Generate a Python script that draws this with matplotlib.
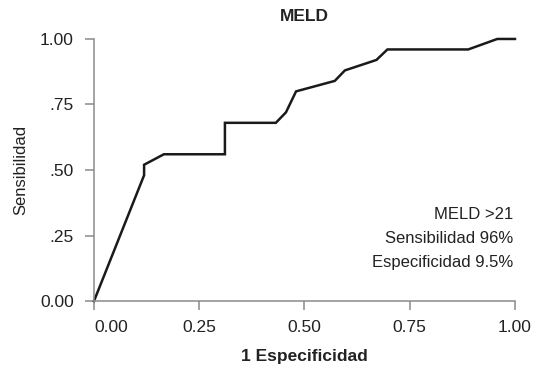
import matplotlib
matplotlib.use("Agg")
import matplotlib.pyplot as plt

# ROC curve points (1 - specificity, sensitivity)
fpr = [0.0, 0.119, 0.119, 0.166, 0.311, 0.311, 0.432, 0.456, 0.480,
       0.572, 0.596, 0.671, 0.697, 0.889, 0.958, 1.0]
tpr = [0.0, 0.48, 0.52, 0.56, 0.56, 0.68, 0.68, 0.72, 0.80,
       0.84, 0.88, 0.92, 0.96, 0.96, 1.0, 1.0]

xticks = [0.0, 0.25, 0.5, 0.75, 1.0]
xticklabels = ["0.00", "0.25", "0.50", "0.75", "1.00"]
yticks = [0.0, 0.25, 0.5, 0.75, 1.0]
yticklabels = ["0.00", ".25", ".50", ".75", "1.00"]
note_lines = ["MELD >21", "Sensibilidad 96%", "Especificidad 9.5%"]

plt.rcParams["font.family"] = ["Liberation Sans", "DejaVu Sans"]

GRAY = "#8a8a8a"
TXT = "#222222"

fig = plt.figure(figsize=(5.39, 3.82), dpi=100)
ax = fig.add_axes([0.1744, 0.212, 0.781, 0.686])

ax.plot(fpr, tpr, color="#1a1a1a", lw=1.8, clip_on=False, solid_joinstyle="miter")

ax.set_xlim(0, 1)
ax.set_ylim(0, 1)
for side in ("top", "right"):
    ax.spines[side].set_visible(False)
for side in ("left", "bottom"):
    ax.spines[side].set_color(GRAY)
    ax.spines[side].set_linewidth(1.1)

ax.set_xticks(xticks)
ax.set_xticklabels(xticklabels)
ax.set_yticks(yticks)
ax.set_yticklabels(yticklabels)
ax.tick_params(axis="both", direction="out", length=6.5, width=1.1, color=GRAY,
               labelsize=12.5, labelcolor=TXT)
ax.tick_params(axis="x", pad=7)
ax.tick_params(axis="y", pad=8)
ax.get_xticklabels()[0].set_horizontalalignment("left")

ax.set_title("MELD", fontsize=12.5, fontweight="bold", color=TXT, pad=13)
ax.set_xlabel("1 Especificidad", fontsize=12.5, fontweight="bold", color=TXT, labelpad=10)
ax.set_ylabel("Sensibilidad", fontsize=12, color=TXT)
ax.yaxis.set_label_coords(-0.155, 0.5)

ax.text(0.995, 0.357, "\n".join(note_lines), transform=ax.transAxes,
        ha="right", va="top", fontsize=12, color=TXT, linespacing=1.73)

fig.savefig("out.png", dpi=100)
